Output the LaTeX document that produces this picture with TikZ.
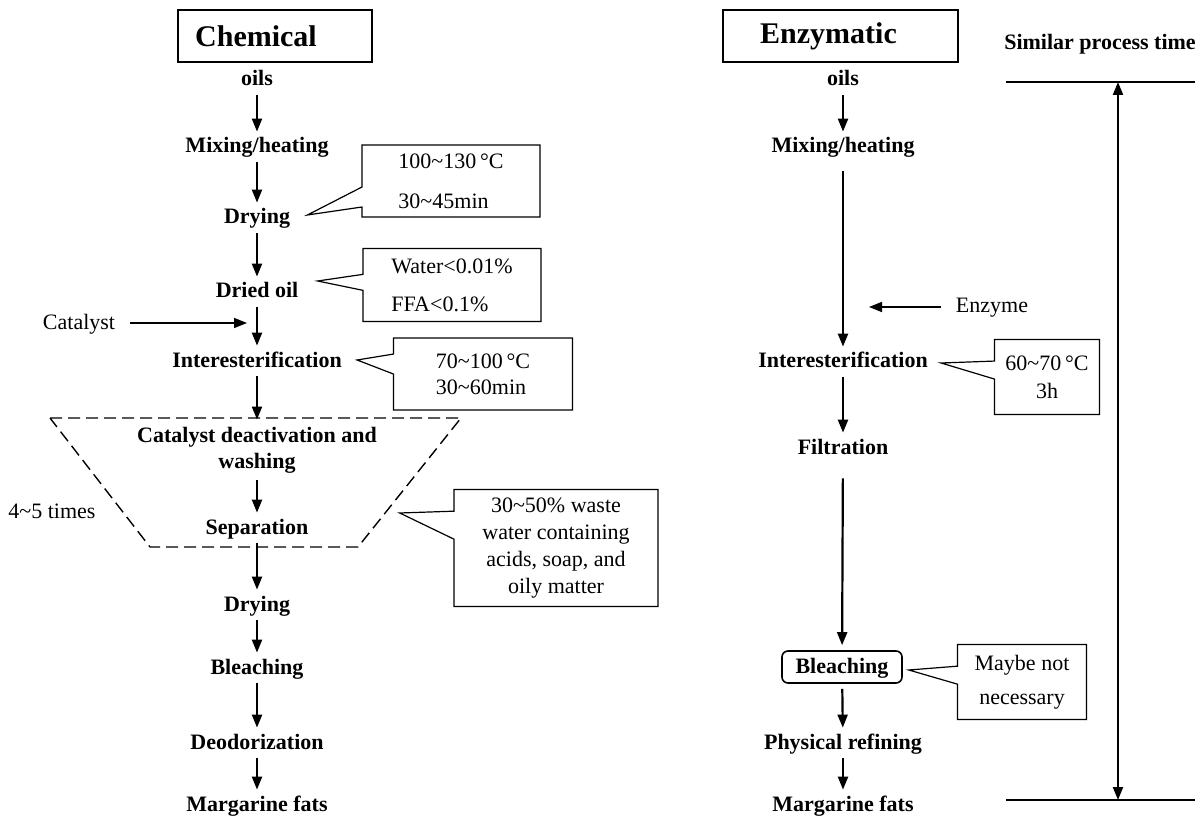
\documentclass[tikz,border=0pt]{standalone}
\usepackage{fontspec}
\setmainfont{Liberation Serif}
\usetikzlibrary{arrows.meta,positioning,calc,shapes.callouts}
\newcommand{\tld}{\textasciitilde}

\begin{document}
\begin{tikzpicture}[x=0.5pt, y=-0.5pt,
  stage/.style={font=\fontsize{11}{13}\selectfont\bfseries, inner sep=0.5pt, text height=7.5pt, text depth=1.5pt},
  note/.style={font=\fontsize{11}{13}\selectfont, inner sep=0.5pt, text height=7.5pt, text depth=1.5pt},
  head/.style={draw, line width=1pt, font=\fontsize{15}{18}\selectfont\bfseries, minimum height=26pt},
  flow/.style={-{Triangle[length=6.5pt,width=5pt]}, line width=1.1pt, shorten <=2.5pt, shorten >=2.5pt},
  bubble/.style={rectangle callout, draw, line width=0.6pt, inner sep=1pt, font=\fontsize{11}{13}\selectfont},
  rule/.style={line width=0.7pt}]
\useasboundingbox (0,0) rectangle (1200,818);

% chemical route
\node[head, minimum width=97pt] (chem) at (275,36) {Chemical\hspace*{19pt}};
\node[stage] (oilsC) at (257,80) {oils};
\node[stage] (mixC) at (257,147) {Mixing/heating};
\node[stage] (dryC) at (257,218) {Drying};
\node[stage] (driedC) at (257,292) {Dried oil};
\node[stage] (interC) at (257,361) {Interesterification};
\node[font=\fontsize{11}{13}\selectfont\bfseries, inner sep=1pt, align=center] (washC) at (257,450) {Catalyst deactivation and\\washing};
\node[stage] (sepC) at (257,528) {Separation};
\node[stage] (dry2C) at (257,605) {Drying};
\node[stage] (bleachC) at (257,668) {Bleaching};
\node[stage] (deodC) at (257,743) {Deodorization};
\node[stage] (margC) at (257,805) {Margarine fats};

\node[note] (cat) at (79,323) {Catalyst};
\node[note] (times) at (52,512) {4\tld5 times};

% washing loop
\draw[dashed, dash pattern=on 6pt off 3pt, line width=0.7pt] (50,418) -- (461,418) -- (358,547) -- (150,547) -- cycle;

\node[bubble, align=left, minimum width=89pt, minimum height=36pt, callout pointer width=10pt,
  callout absolute pointer={($(dryC.east)+(16,-3)$)}] (c1) at (451,181) {100\tld130\,\textdegree C\\[7pt]30\tld45min};
\node[bubble, align=left, minimum width=89pt, minimum height=36.5pt, callout pointer width=8pt,
  callout absolute pointer={($(driedC.east)+(18,-11)$)}] (c2) at (452,285) {Water<0.01\%\\[6pt]FFA<0.1\%};
\node[bubble, align=left, minimum width=89.5pt, minimum height=36pt, callout pointer width=10pt,
  callout absolute pointer={($(interC.east)+(14,-1)$)}] (c3) at (483,374) {70\tld100\,\textdegree C\\30\tld60min};
\node[bubble, align=center, minimum width=102pt, minimum height=58.5pt, callout pointer width=14pt,
  font=\fontsize{11}{13.5}\selectfont,
  callout absolute pointer={($(sepC.east)+(90,-15)$)}] (c4) at (556,548) {30\tld50\% waste\\water containing\\acids, soap, and\\oily matter};

% enzymatic route
\node[head, minimum width=117.5pt] (enz) at (840.5,36) {Enzymatic\hspace*{12pt}};
\node[stage] (oilsE) at (843,80) {oils};
\node[stage] (mixE) at (843,147) {Mixing/heating};
\node[stage] (interE) at (843,362) {Interesterification};
\node[stage] (filtE) at (843,448) {Filtration};
\node[stage, draw, line width=0.8pt, rounded corners=3pt, minimum width=60pt, minimum height=16pt] (bleachE) at (842,667) {Bleaching};
\node[stage] (physE) at (843,743) {Physical refining};
\node[stage] (margE) at (843,805) {Margarine fats};

\node[note] (enzyme) at (992,307) {Enzyme};

\node[bubble, align=center, minimum width=52.5pt, minimum height=37.5pt, callout pointer width=9pt,
  font=\fontsize{11}{14}\selectfont,
  callout absolute pointer={($(interE.east)+(12,1)$)}] (c5) at (1047,377) {60\tld70\,\textdegree C\\3h};
\node[bubble, align=center, minimum width=64.5pt, minimum height=37.5pt, callout pointer width=9pt,
  callout absolute pointer={($(bleachE.east)+(6,3)$)}] (c6) at (1022,682) {Maybe not\\[4pt]necessary};

% process time
\node[stage] (ptime) at (1100,44) {Similar process time};
\coordinate (tTop) at (1118,82);
\coordinate (tBot) at (1118,800);
\draw[rule] (1006,82) -- (1195,82);
\draw[rule] (1006,800) -- (1195,800);
\draw[line width=1.1pt, {Triangle[length=6.5pt,width=5pt]}-{Triangle[length=6.5pt,width=5pt]}] (tTop) -- (tBot);

\foreach \a/\b in {oilsC/mixC, mixC/dryC, dryC/driedC, driedC/interC, interC/washC, washC/sepC,
  sepC/dry2C, dry2C/bleachC, bleachC/deodC, deodC/margC, oilsE/mixE, interE/filtE, bleachE/physE, physE/margE}
  \draw[flow] (\a) -- (\b);
\draw[flow, shorten <=7pt] (mixE) -- (interE);
\draw[flow, shorten <=10pt] (filtE) -- (bleachE);
\draw[flow, line width=0.8pt, shorten <=7pt, shorten >=5pt] (cat) -- (cat -| driedC);
\draw[flow, line width=0.8pt, shorten <=7pt, shorten >=13pt] (enzyme) -- (enzyme -| mixE);
\end{tikzpicture}
\end{document}
